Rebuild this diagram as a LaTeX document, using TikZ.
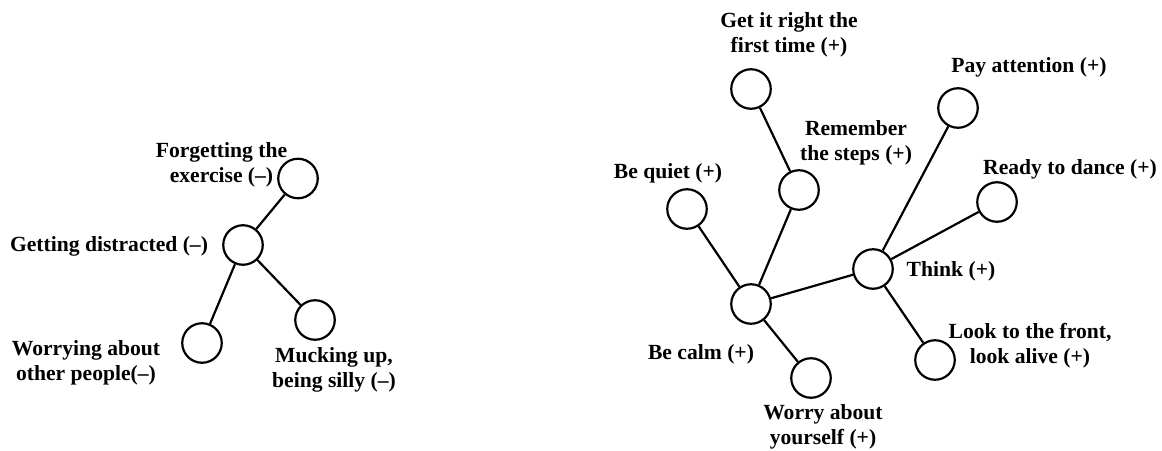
\documentclass[tikz,border=0pt]{standalone}
\usepackage{fontspec}
\setmainfont{Liberation Serif}
\begin{document}
\begin{tikzpicture}[x=1pt,y=-1pt,
  dot/.style={circle,draw=black,line width=2.2pt,minimum size=39.5pt,inner sep=0pt},
  lbl/.style={align=center,inner sep=0pt,font=\bfseries\fontsize{21.6}{24.5}\selectfont},
  link/.style={line width=2.2pt}]
\useasboundingbox (0,0) rectangle (1162,450);

% left tree
\node[dot] (forget) at (298,178.5) {};
\node[dot] (distract) at (243,245) {};
\node[dot] (worrying) at (202,343) {};
\node[dot] (mucking) at (315,320) {};

\node[lbl] (lforget) at (221.5,165) {Forgetting the\\exercise (--)};
\node[lbl] (ldistract) at (109,246) {Getting distracted (--)};
\node[lbl] (lworrying) at (86,363) {Worrying about\\other people(--)};
\node[lbl] (lmucking) at (334,370) {Mucking up,\\being silly (--)};

\draw[link] (forget) -- (distract);
\draw[link] (distract) -- (worrying);
\draw[link] (distract) -- (mucking);

% right tree
\node[dot] (right) at (751,89) {};
\node[dot] (remember) at (799,190) {};
\node[dot] (quiet) at (687,209) {};
\node[dot] (attention) at (958,108) {};
\node[dot] (ready) at (997,202) {};
\node[dot] (calm) at (751,304) {};
\node[dot] (think) at (873,269) {};
\node[dot] (front) at (935,360) {};
\node[dot] (yourself) at (811,378) {};

\node[lbl] (lright) at (789,35) {Get it right the\\first time (+)};
\node[lbl] (lattention) at (1029,67) {Pay attention (+)};
\node[lbl] (lremember) at (856,143) {Remember\\the steps (+)};
\node[lbl] (lquiet) at (668,173) {Be quiet (+)};
\node[lbl] (lready) at (1070,169.5) {Ready to dance (+)};
\node[lbl] (lthink) at (951,271) {Think (+)};
\node[lbl] (lcalm) at (701,354) {Be calm (+)};
\node[lbl] (lfront) at (1030,345.5) {Look to the front,\\look alive (+)};
\node[lbl] (lyourself) at (823,427) {Worry about\\yourself (+)};

\draw[link] (right) -- (remember);
\draw[link] (remember) -- (calm);
\draw[link] (quiet) -- (calm);
\draw[link] (calm) -- (think);
\draw[link] (calm) -- (yourself);
\draw[link] (think) -- (attention);
\draw[link] (think) -- (ready);
\draw[link] (think) -- (front);
\end{tikzpicture}
\end{document}
